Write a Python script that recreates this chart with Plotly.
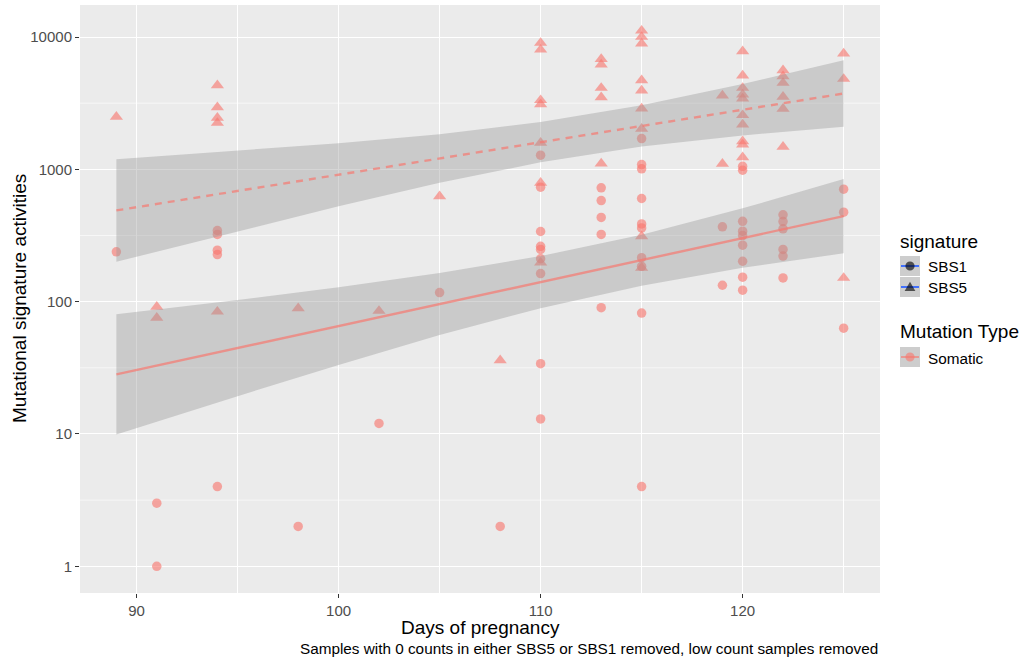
import numpy as np
import plotly.graph_objects as go

# ---------------- data ----------------
# SBS1 activities (circles) by day of pregnancy
sbs1_days = [89,
             91, 91,
             94, 94, 94, 94, 94,
             98, 102, 105, 108,
             110, 110, 110, 110, 110, 110, 110, 110, 110,
             113, 113, 113, 113, 113,
             115, 115, 115, 115, 115, 115, 115, 115, 115, 115,
             119, 119,
             120, 120, 120, 120, 120, 120, 120, 120, 120,
             122, 122, 122, 122, 122, 122,
             125, 125, 125]
sbs1_vals = [238,
             3, 1,
             345, 322, 245, 227, 4,
             2, 12, 117, 2,
             1280, 733, 339, 262, 248, 211, 163, 34, 13,
             725, 581, 433, 322, 90,
             1709, 1086, 1009, 602, 387, 361, 215, 185, 82, 4,
             368, 133,
             1054, 984, 405, 341, 316, 267, 202, 153, 122,
             453, 403, 355, 248, 221, 151,
             708, 474, 63]

# SBS5 activities (triangles) by day of pregnancy
sbs5_days = [89,
             91, 91,
             94, 94, 94, 94, 94,
             98, 102, 105, 108,
             110, 110, 110, 110, 110, 110, 110,
             113, 113, 113, 113, 113,
             115, 115, 115, 115, 115, 115, 115, 115, 115,
             119, 119,
             120, 120, 120, 120, 120, 120, 120, 120, 120, 120,
             122, 122, 122, 122, 122, 122,
             125, 125, 125]
sbs5_vals = [2494,
             91.5, 75.5,
             4315, 2944, 2450, 2244, 84,
             89, 85, 626, 36,
             9020, 8030, 3330, 3100, 1585, 791, 197,
             6820, 6190, 4120, 3505, 1105,
             11170, 10020, 8920, 4710, 3936, 2880, 2023, 312, 180,
             3610, 1100,
             7800, 5110, 4120, 3670, 3430, 2565, 2180, 1630, 1539, 1234,
             5607, 5050, 4500, 3530, 2866, 1479,
             7500, 4820, 151]

# linear-model smoothers (log scale): fitted line and 95% band
fit_days = [89, 125]
sbs1_fit = [28.2, 443]
sbs5_fit = [489, 3740]

band_days = [89, 95, 100, 105, 110, 115, 120, 125]
sbs1_band_hi = [80.4, 103, 128.5, 164.7, 221, 321, 507, 845]
sbs1_band_lo = [9.9, 19.3, 33.2, 55.9, 89.3, 132, 180, 232]
sbs5_band_hi = [1191, 1377, 1574, 1845, 2275, 3046, 4406, 6668]
sbs5_band_lo = [200, 341, 526, 791, 1130, 1486, 1803, 2099]

x_ticks = [90, 100, 110, 120]
y_ticks = [1, 10, 100, 1000, 10000]
y_ticktext = ["1", "10", "100", "1000", "10000"]

# ---------------- style ----------------
FONT = "Liberation Sans, Arial, Helvetica, sans-serif"
SALMON = "#F8766D"
PT_ALPHA = 0.62
RIBBON = "rgba(153,153,153,0.4)"
X_RANGE = [87.2, 126.8]
Y_RANGE = [-0.202, 4.242]          # log10 units
TITLE_SIZE = 19
TEXT_SIZE = 15.3
TICK_SIZE = 15

# plotting panel in pixels (figure is 1021 x 660)
L, R, T, B = 80, 141, 5, 67
W, H = 1021, 660
PW, PH = W - L - R, H - T - B


def px(xp):
    return (xp - L) / PW


def py(yp):
    return (H - B - yp) / PH


fig = go.Figure()

# points
fig.add_trace(go.Scatter(
    x=sbs1_days, y=sbs1_vals, mode="markers", showlegend=False, name="SBS1",
    marker=dict(symbol="circle", size=9.5, color=SALMON, opacity=PT_ALPHA,
                line=dict(width=0))))
fig.add_trace(go.Scatter(
    x=sbs5_days, y=sbs5_vals, mode="markers", showlegend=False, name="SBS5",
    marker=dict(symbol="triangle-up", size=11.5, color=SALMON, opacity=PT_ALPHA,
                line=dict(width=0))))

# confidence ribbons over the points
for hi, lo in [(sbs1_band_hi, sbs1_band_lo), (sbs5_band_hi, sbs5_band_lo)]:
    fig.add_trace(go.Scatter(
        x=band_days + band_days[::-1], y=hi + lo[::-1],
        mode="lines", fill="toself", fillcolor=RIBBON,
        line=dict(width=0), hoverinfo="skip", showlegend=False))

# fitted lines
for fit, dash in [(sbs1_fit, "solid"), (sbs5_fit, "7px,6px")]:
    fig.add_trace(go.Scatter(
        x=fit_days, y=fit, mode="lines", showlegend=False, hoverinfo="skip",
        line=dict(color="rgba(248,118,109,0.68)", width=2.4, dash=dash)))

# minor horizontal gridlines at half decades
shapes = []
for k in range(0, 4):
    v = k + 0.5
    yp = (v - Y_RANGE[0]) / (Y_RANGE[1] - Y_RANGE[0])
    shapes.append(dict(type="line", xref="paper", yref="paper", x0=0, x1=1,
                       y0=yp, y1=yp, layer="below",
                       line=dict(color="white", width=0.6)))

# ---- legend drawn by hand ----
KEY_FILL = "#CDCDCD"


def key_box(top):
    shapes.append(dict(type="rect", xref="paper", yref="paper",
                       x0=px(900), x1=px(920), y0=py(top + 20), y1=py(top),
                       fillcolor=KEY_FILL, line=dict(width=0), layer="above"))


def key_line(cy, color, width):
    shapes.append(dict(type="line", xref="paper", yref="paper",
                       x0=px(901), x1=px(919), y0=py(cy), y1=py(cy),
                       line=dict(color=color, width=width), layer="above"))


def key_circle(cx, cy, r, color):
    shapes.append(dict(type="circle", xref="paper", yref="paper",
                       x0=px(cx - r), x1=px(cx + r), y0=py(cy + r), y1=py(cy - r),
                       fillcolor=color, line=dict(width=0), layer="above"))


def key_triangle(cx, cy, r, color):
    pts = [(cx, cy - r), (cx + 0.866 * r, cy + r / 2), (cx - 0.866 * r, cy + r / 2)]
    path = "M " + " L ".join(f"{px(a):.5f},{py(b):.5f}" for a, b in pts) + " Z"
    shapes.append(dict(type="path", xref="paper", yref="paper", path=path,
                       fillcolor=color, line=dict(width=0), layer="above"))


key_box(256)
key_line(266, "#3366FF", 1.8)
key_circle(910, 266, 4.6, "rgba(0,0,0,0.62)")
key_box(277)
key_line(287, "#3366FF", 1.8)
key_triangle(910, 288, 6.2, "rgba(0,0,0,0.62)")
key_box(347)
key_line(357, "rgba(248,118,109,0.6)", 2.0)
key_circle(910, 357, 4.6, "rgba(248,118,109,0.6)")


def label(text, x, y, size, xanchor="left", angle=0):
    return dict(text=text, x=x, y=y, xref="paper", yref="paper",
                xanchor=xanchor, yanchor="middle", showarrow=False,
                textangle=angle, font=dict(size=size, color="black", family=FONT))


annotations = [
    label("Days of pregnancy", 0.5, py(627), TITLE_SIZE, "center"),
    label("Samples with 0 counts in either SBS5 or SBS1 removed, low count samples removed",
          1.0, py(648), TEXT_SIZE, "right"),
    label("Mutational signature activities", px(19), 0.5, TITLE_SIZE, "center", -90),
    label("signature", px(898), py(241), TITLE_SIZE),
    label("SBS1", px(926), py(266), TEXT_SIZE),
    label("SBS5", px(926), py(287), TEXT_SIZE),
    label("Mutation Type", px(898), py(331), TITLE_SIZE),
    label("Somatic", px(926), py(358), TEXT_SIZE),
]

fig.update_layout(
    width=W, height=H,
    margin=dict(l=L, r=R, t=T, b=B, pad=0),
    paper_bgcolor="white", plot_bgcolor="#EBEBEB",
    font=dict(family=FONT, color="#4D4D4D"),
    showlegend=False,
    shapes=shapes,
    annotations=annotations,
    xaxis=dict(range=X_RANGE, tickmode="array", tickvals=x_ticks,
               ticktext=[str(v) for v in x_ticks],
               showgrid=True, gridcolor="white", gridwidth=1.2,
               minor=dict(dtick=5, tick0=0, showgrid=True, gridcolor="white",
                          gridwidth=0.6, ticks=""),
               zeroline=False, showline=False,
               ticks="outside", ticklen=4, tickwidth=1.1, tickcolor="#333333",
               tickfont=dict(size=TICK_SIZE, color="#4D4D4D", family=FONT)),
    yaxis=dict(type="log", range=Y_RANGE, tickmode="array", tickvals=y_ticks,
               ticktext=y_ticktext,
               showgrid=True, gridcolor="white", gridwidth=1.2,
               zeroline=False, showline=False,
               ticks="outside", ticklen=4, tickwidth=1.1, tickcolor="#333333",
               tickfont=dict(size=TICK_SIZE, color="#4D4D4D", family=FONT)),
)

fig.write_html("out.html")
